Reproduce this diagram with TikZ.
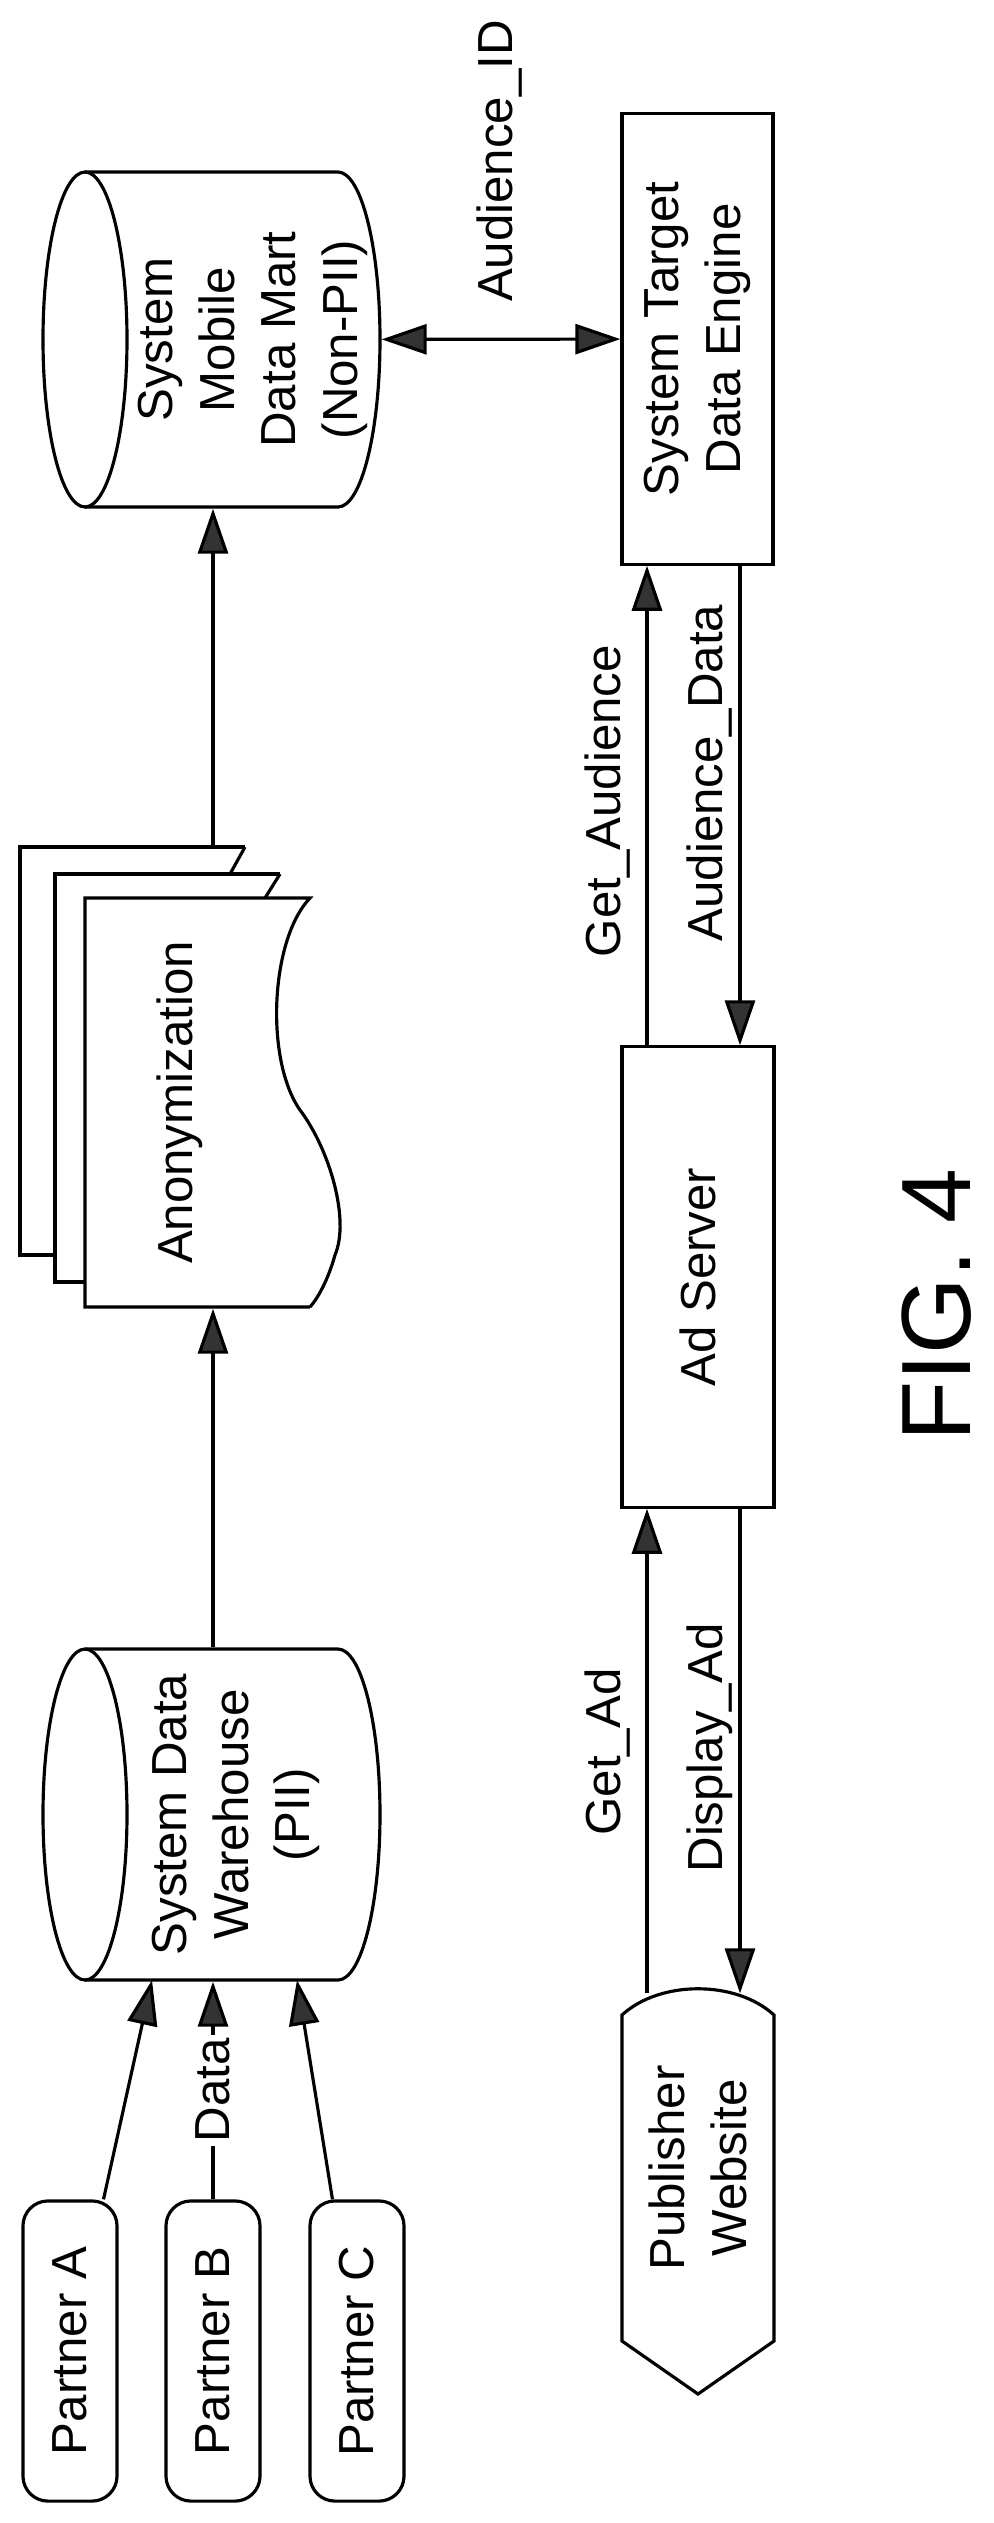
\documentclass[tikz,border=0pt]{standalone}
\usepackage{fontspec}
\setmainfont{Liberation Sans}
\usetikzlibrary{positioning, arrows.meta, calc}
\tikzset{
    box/.style={draw, line width=0.9pt, rotate=90, inner sep=0pt, align=center,
        font=\fontsize{14}{17.5}\selectfont},
    ghost/.style={box, draw=none},
    arr/.style={line width=0.9pt, -{Triangle[length=4.5mm,width=3mm,fill=black!80]}},
    arrb/.style={line width=0.9pt, {Triangle[length=4.5mm,width=3mm,fill=black!80]}-{Triangle[length=4.5mm,width=3mm,fill=black!80]}},
    lbl/.style={rotate=90, inner sep=1pt, font=\fontsize{14}{17.5}\selectfont}
}
\begin{document}
\begin{tikzpicture}[x=0.01cm, y=0.01cm]
    \useasboundingbox (0,0) rectangle (994,-2523);

    % partners
    \foreach \name/\x in {A/70, B/213, C/357}{
        \node[box, rounded corners=0.25cm, minimum width=3cm, minimum height=0.94cm]
            (partner\name) at (\x,-2351) {Partner \name};
    }

    % databases
    \node[ghost, minimum width=3.31cm, minimum height=2.88cm] (whouse) at (236,-1814.5)
        {System Data\\Warehouse\\(PII)};
    \draw[line width=0.9pt] (85,-1649) -- (338,-1649)
        arc[start angle=90, end angle=-90, x radius=42, y radius=165.5] -- (85,-1980);
    \draw[line width=0.9pt] (85,-1814.5) ellipse[x radius=42, y radius=165.5];

    \node[ghost, minimum width=3.35cm, minimum height=2.54cm] (mart) at (253,-339.5)
        {System\\Mobile\\Data Mart\\(Non-PII)};
    \draw[line width=0.9pt] (85,-172) -- (338,-172)
        arc[start angle=90, end angle=-90, x radius=42, y radius=167.5] -- (85,-507);
    \draw[line width=0.9pt] (85,-339.5) ellipse[x radius=42, y radius=167.5];

    % anonymization documents
    \node[ghost, minimum width=4.09cm, minimum height=1.9cm] (anon) at (180,-1102.5) {Anonymization};
    \draw[line width=0.9pt] (245,-847) -- (20,-847) -- (20,-1255) -- (55,-1255);
    \draw[line width=0.9pt] (245,-847) -- (230,-874);
    \draw[line width=0.9pt] (280,-874) -- (55,-874) -- (55,-1282) -- (85,-1282);
    \draw[line width=0.9pt] (280,-874) -- (265,-898);
    \draw[line width=0.9pt] (310,-1307) -- (85,-1307) -- (85,-898) -- (310,-898)
        .. controls (270,-940) and (265,-1060) .. (300,-1110)
        .. controls (330,-1150) and (350,-1220) .. (335,-1255)
        .. controls (328,-1280) and (318,-1298) .. (310,-1307);

    % serving side
    \node[box, minimum width=4.5cm, minimum height=1.51cm] (target) at (697.5,-339)
        {System Target\\Data Engine};
    \node[box, minimum width=4.6cm, minimum height=1.52cm] (ads) at (698,-1277) {Ad Server};
    \node[ghost, minimum width=3.46cm, minimum height=1.52cm] (pub) at (698,-2168)
        {Publisher\\Website};
    \draw[line width=0.9pt] (622,-2341) -- (622,-2015)
        .. controls (660,-1980) and (736,-1980) .. (774,-2015) -- (774,-2341)
        -- (698,-2394) -- cycle;

    % connectors
    \coordinate (wA) at (152,-1980);
    \coordinate (wC) at (297,-1980);
    \coordinate (midx) at (213,0);
    \coordinate (getx) at (647,0);
    \coordinate (putx) at (740,0);
    \draw[arr] (partnerA) -- (wA);
    \draw[arr] (partnerB) -- node[lbl, fill=white] {Data} (whouse.west -| partnerB);
    \draw[arr] (partnerC) -- (wC);
    \draw[arr] (whouse.east -| midx) -- (anon.west -| midx);
    \draw[arr] (213,-847) -- (mart.west -| midx);
    \draw[arrb] (mart) -- (target);
    \draw[arr] (ads.east -| getx) -- (target.west -| getx);
    \draw[arr] (target.west -| putx) -- (ads.east -| putx);
    \draw[arr] (pub.east -| getx) -- (ads.west -| getx);
    \draw[arr] (ads.west -| putx) -- (pub.east -| putx);

    % labels
    \node[lbl] (lblId) at (500,-161) {Audience\_ID};
    \node[lbl] (lblGetAud) at (608,-801) {Get\_Audience};
    \node[lbl] (lblAudData) at (710,-773) {Audience\_Data};
    \node[lbl] (lblGetAd) at (608,-1752) {Get\_Ad};
    \node[lbl] (lblShowAd) at (710,-1748) {Display\_Ad};
    \node[rotate=90, font=\fontsize{28}{34}\selectfont] (fig) at (937,-1305) {FIG. 4};
\end{tikzpicture}
\end{document}
